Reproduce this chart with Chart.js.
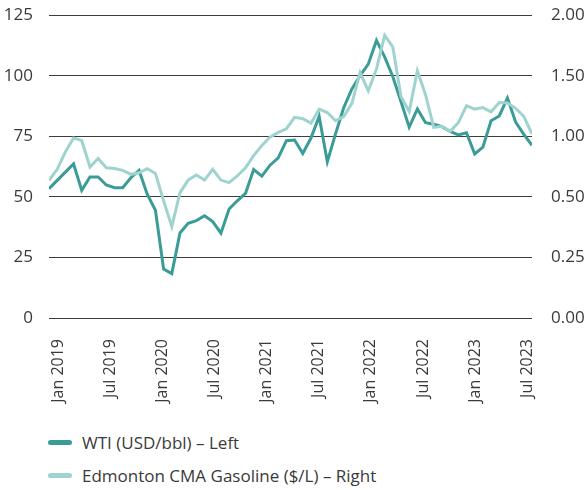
<!DOCTYPE html>
<html>
<head>
<meta charset="utf-8">
<script src="https://cdn.jsdelivr.net/npm/chart.js@4.4.0/dist/chart.umd.min.js"></script>
<style>
  html, body { margin: 0; padding: 0; background: #fff; overflow: hidden; }
  #wrap { width: 587px; height: 420px; overflow: visible; }
  #chart { display: block; margin-top: -14px; }
  #legend { margin: 20px 0 0 48px; font-family: "Open Sans", sans-serif; font-size: 17px; color: #3a3a3a; }
  .item { display: flex; align-items: center; height: 33px; }
  .swatch { width: 24px; height: 5px; border-radius: 3px; margin-right: 10px; }
</style>
</head>
<body>
<div id="wrap"><canvas id="chart" width="587" height="434"></canvas></div>
<div id="legend"></div>
<script>
// tick labels
const xTickLabels = ["Jan 2019", "Jul 2019", "Jan 2020", "Jul 2020", "Jan 2021",
  "Jul 2021", "Jan 2022", "Jul 2022", "Jan 2023", "Jul 2023"]
const rightTickLabels = ["0.00", "0.25", "0.50", "1.00", "1.50", "2.00"]

// WTI (USD/bbl), left axis
const wti = [53.4, 56.8, 60.2, 63.6, 52.7, 58.2, 58.2, 54.9, 53.8, 53.8,
  57.9, 60.9, 51.1, 44.5, 20.2, 18.3, 35.1, 39.1, 40.2, 42.2,
  39.8, 35.0, 45.0, 48.4, 51.4, 61.3, 58.6, 63.1, 66.1, 73.2,
  73.5, 67.9, 74.3, 83.2, 64.5, 76.0, 86.8, 94.6, 100.0, 104.8,
  114.6, 107.8, 99.6, 89.3, 78.8, 86.3, 80.6, 80.0, 79.0, 77.0,
  75.6, 76.5, 67.7, 70.5, 81.4, 83.4, 90.8, 80.9, 75.8, 71.3]

// Edmonton CMA gasoline ($/L), right axis
const gasoline = [0.910, 0.982, 1.097, 1.189, 1.172, 0.997, 1.054, 0.992, 0.988, 0.975,
  0.949, 0.959, 0.986, 0.955, 0.774, 0.603, 0.828, 0.911, 0.944, 0.911,
  0.982, 0.911, 0.894, 0.938, 0.992, 1.073, 1.139, 1.195, 1.226, 1.250,
  1.325, 1.316, 1.287, 1.379, 1.357, 1.303, 1.331, 1.418, 1.622, 1.500,
  1.645, 1.867, 1.790, 1.462, 1.364, 1.633, 1.473, 1.259, 1.266, 1.233,
  1.290, 1.403, 1.380, 1.390, 1.362, 1.423, 1.420, 1.385, 1.331, 1.215]

const series = [
  { label: "WTI (USD/bbl) – Left", values: wti, color: "#3b9c97", axis: "y" },
  { label: "Edmonton CMA Gasoline ($/L) – Right", values: gasoline, color: "#9fd3cf", axis: "y1" },
]

const tickFont = { family: "Open Sans", size: 17 }
const textColor = "#3a3a3a"

new Chart(document.getElementById("chart"), {
  type: "line",
  data: {
    // later datasets are drawn on top, so WTI goes last
    datasets: series.slice().reverse().map((s) => ({
      label: s.label,
      data: s.values.map((v, i) => ({ x: i, y: v })),
      borderColor: s.color,
      backgroundColor: s.color,
      borderWidth: 3,
      pointRadius: 0,
      tension: 0,
      yAxisID: s.axis,
    })),
  },
  options: {
    responsive: false,
    animation: false,
    layout: { padding: 0 },
    plugins: { legend: { display: false }, tooltip: { enabled: false } },
    scales: {
      x: {
        type: "linear",
        min: 0,
        max: wti.length - 1,
        grid: { display: false },
        border: { display: false },
        afterBuildTicks: (scale) => {
          scale.ticks = xTickLabels.map((_, k) => ({ value: 1.16 + k * 6.36 }))
        },
        afterFit: (scale) => { scale.height = 102 },
        ticks: {
          autoSkip: false,
          minRotation: 90,
          maxRotation: 90,
          padding: 13,
          color: textColor,
          font: { family: "Open Sans", size: 16 },
          callback: (value, index) => xTickLabels[index],
        },
      },
      y: {
        position: "left",
        min: 0,
        max: 125,
        afterFit: (scale) => { scale.width = 49 },
        grid: { color: "#3c3c3c", lineWidth: 1, drawTicks: false },
        border: { display: false },
        ticks: { stepSize: 25, padding: 16, color: textColor, font: tickFont },
      },
      y1: {
        position: "right",
        min: 0,
        max: 2,
        afterFit: (scale) => { scale.width = 55 },
        grid: { display: false, drawTicks: false },
        border: { display: false },
        afterBuildTicks: (scale) => {
          scale.ticks = rightTickLabels.map((_, k) => ({ value: k * 0.4 }))
        },
        ticks: {
          padding: 19,
          color: textColor,
          font: tickFont,
          callback: (value, index) => rightTickLabels[index],
        },
      },
    },
  },
})

// legend as plain html so the two items stack
const legend = document.getElementById("legend")
series.forEach((s) => {
  const item = document.createElement("div")
  item.className = "item"
  item.innerHTML = `<span class="swatch" style="background:${s.color}"></span><span>${s.label}</span>`
  legend.appendChild(item)
})
</script>
</body>
</html>
